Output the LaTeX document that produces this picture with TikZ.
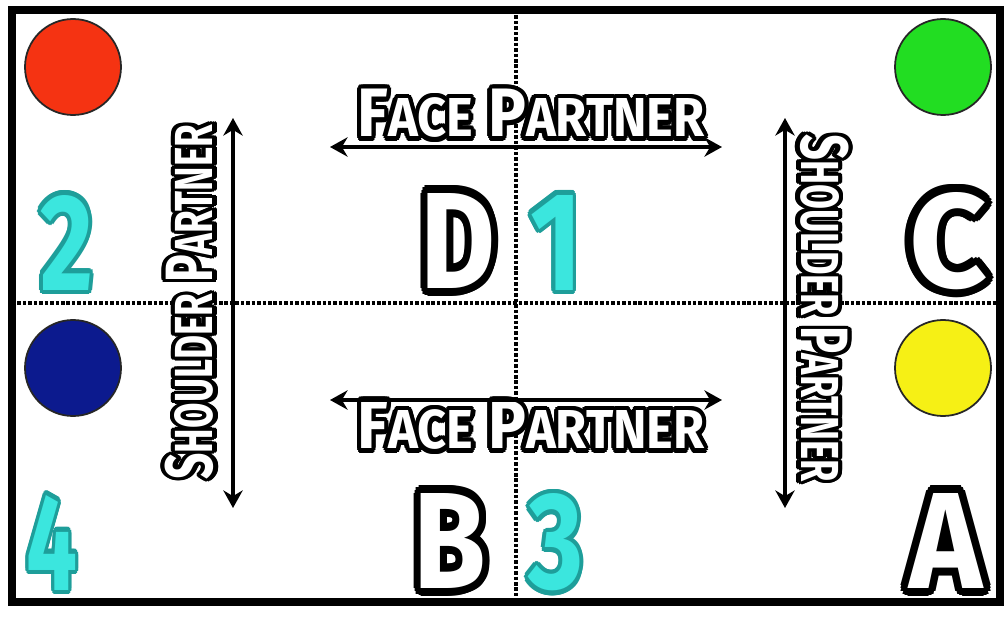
\documentclass[tikz,border=0pt]{standalone}
\usepackage{fontspec}
\setsansfont{Fira Sans}
\usepackage{graphicx}
\usepackage[copies]{contour}
\usetikzlibrary{arrows.meta}

\definecolor{dotred}{HTML}{F53312}
\definecolor{dotgreen}{HTML}{22DD22}
\definecolor{dotnavy}{HTML}{0C1A8E}
\definecolor{dotyellow}{HTML}{F6F015}
\definecolor{numfill}{HTML}{3BE6DE}
\definecolor{numedge}{HTML}{1E9E9A}

\newcommand{\bigglyph}[2]{\resizebox{#1}{1.9cm}{\sffamily\bfseries\contourlength{0.06em}\contour{black}{\textcolor{white}{#2}}}}
\newcommand{\bignum}[2]{\resizebox{#1}{1.9cm}{\sffamily\bfseries\contourlength{0.035em}\contour{numedge}{\textcolor{numfill}{#2}}}}
\newcommand{\partnerlbl}[2]{\resizebox{#1}{0.95cm}{\sffamily\bfseries\contourlength{0.07em}\contour{black}{\textcolor{white}{#2}}}}
\newcommand{\sm}[1]{{\fontsize{8}{8}\selectfont #1}}

\begin{document}
\begin{tikzpicture}[x=1cm,y=1cm,>={Stealth[length=10pt,width=11pt]},
  spot/.style={circle,draw=black!85,line width=1pt,minimum size=1.92cm,inner sep=0pt},
  divider/.style={line width=2pt,dash pattern=on 2pt off 1.1pt},
  partnerarrow/.style={<->,line width=2pt},
  every node/.style={inner sep=0pt}]
\useasboundingbox[fill=white] (0,0) rectangle (20.12,12.32);

\coordinate (vtop) at (10.32,12.12); \coordinate (vbot) at (10.32,0.28);
\coordinate (hl) at (0.24,6.26); \coordinate (hr) at (20.0,6.26);
\draw[divider] (vtop) -- (vbot);
\draw[divider] (hl) -- (hr);

\node[spot,fill=dotred] (red) at (1.46,10.98) {};
\node[spot,fill=dotgreen] (green) at (18.86,10.98) {};
\node[spot,fill=dotnavy] (navy) at (1.46,4.96) {};
\node[spot,fill=dotyellow] (yellow) at (18.86,4.96) {};

\node (n2) at (1.34,7.42) {\bignum{1.06cm}{2}};
\node (n1) at (11.12,7.42) {\bignum{1.04cm}{1}};
\node (n4) at (1.04,1.42) {\bignum{1.02cm}{4}};
\node (n3) at (11.12,1.42) {\bignum{1.1cm}{3}};

\node (D) at (9.16,7.42) {\bigglyph{1.5cm}{D}};
\node (C) at (18.96,7.42) {\bigglyph{1.56cm}{C}};
\node (B) at (9.0,1.42) {\bigglyph{1.45cm}{B}};
\node (A) at (18.92,1.42) {\bigglyph{1.46cm}{A}};

\node (facetop) at (10.62,10.0) {\partnerlbl{6.94cm}{F\sm{ACE} P\sm{ARTNER}}};
\node (facebot) at (10.62,3.76) {\partnerlbl{6.94cm}{F\sm{ACE} P\sm{ARTNER}}};
\node[rotate=90] (shleft) at (3.84,6.28) {\partnerlbl{7.1cm}{S\sm{HOULDER} P\sm{ARTNER}}};
\node[rotate=-90] (shright) at (16.44,6.16) {\partnerlbl{6.95cm}{S\sm{HOULDER} P\sm{ARTNER}}};

\coordinate (ftl) at (6.6,9.38); \coordinate (ftr) at (14.44,9.38);
\coordinate (fbl) at (6.6,4.32); \coordinate (fbr) at (14.44,4.32);
\coordinate (slt) at (4.66,9.96); \coordinate (slb) at (4.66,2.16);
\coordinate (srt) at (15.7,9.96); \coordinate (srb) at (15.7,2.16);
\draw[partnerarrow] (ftl) -- (ftr);
\draw[partnerarrow] (fbl) -- (fbr);
\draw[partnerarrow] (slt) -- (slb);
\draw[partnerarrow] (srt) -- (srb);

\draw[line width=4.5pt] (0.24,0.28) rectangle (20.0,12.12);
\end{tikzpicture}
\end{document}
